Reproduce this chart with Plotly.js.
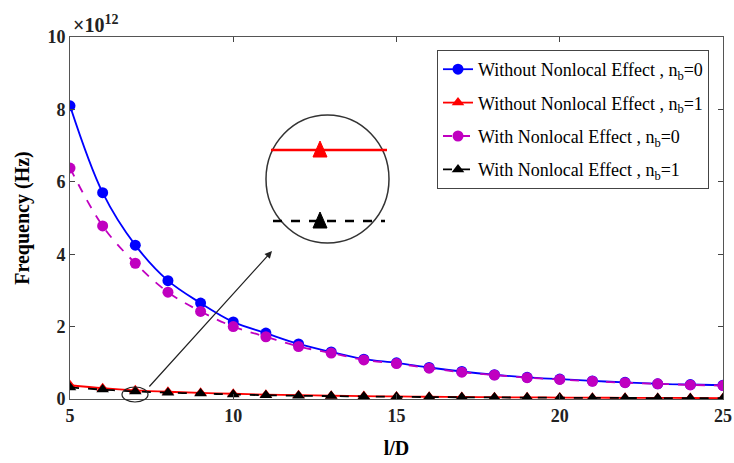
<!DOCTYPE html>
<html><head><meta charset="utf-8">
<script src="https://cdn.plot.ly/plotly-3.0.1.min.js"></script>
<style>body{margin:0;background:#fff}#chart{width:734px;height:463px}</style>
</head><body><div id="chart"></div>
<script>
const ld = [5,6,7,8,9,10,11,12,13,14,15,16,17,18,19,20,21,22,23,24,25];
const withoutNb0 = [8.1,5.7,4.25,3.27,2.65,2.13,1.82,1.52,1.3,1.1,1.0,0.87,0.76,0.67,0.6,0.55,0.5,0.46,0.42,0.4,0.38];
const withoutNb1 = [0.38,0.30,0.24,0.20,0.17,0.145,0.12,0.105,0.09,0.08,0.07,0.062,0.055,0.05,0.045,0.04,0.036,0.033,0.03,0.027,0.025];
const withNb0 = [6.38,4.78,3.75,2.95,2.42,2.0,1.72,1.45,1.27,1.08,0.98,0.85,0.74,0.66,0.59,0.54,0.49,0.45,0.42,0.39,0.37];
const withNb1 = [0.32,0.26,0.21,0.175,0.15,0.125,0.105,0.09,0.08,0.07,0.06,0.054,0.048,0.043,0.039,0.035,0.031,0.028,0.026,0.024,0.022];
const seriesNames = [
  'Without Nonlocal Effect , n<sub>b</sub>=0',
  'Without Nonlocal Effect , n<sub>b</sub>=1',
  'With Nonlocal Effect , n<sub>b</sub>=0',
  'With Nonlocal Effect , n<sub>b</sub>=1'
];
const xTicks = [5,10,15,20,25];
const yTicks = [0,2,4,6,8,10];

const font = 'Liberation Serif, Times New Roman, serif';
const traces = [
  {x: ld, y: withoutNb0, name: seriesNames[0], legendgroup:'a', mode:'lines+markers',
   line:{color:'#0000ff', width:1.8, shape:'spline'}, marker:{symbol:'circle', size:11, color:'#0000ff'}},
  {x: ld, y: withoutNb1, name: seriesNames[1], legendgroup:'b', mode:'lines+markers',
   line:{color:'#ff0000', width:1.8, shape:'spline'}, marker:{symbol:'triangle-up', size:11, color:'#ff0000'}},
  {x: ld, y: withNb0, name: seriesNames[2], legendgroup:'c', mode:'lines+markers',
   line:{color:'#c000c0', width:1.8, dash:'dash', shape:'spline'}, marker:{symbol:'circle', size:11, color:'#c000c0'}},
  {x: ld, y: withNb1, name: seriesNames[3], legendgroup:'d', mode:'lines+markers',
   line:{color:'#000000', width:1.8, dash:'dash', shape:'spline'}, marker:{symbol:'triangle-up', size:11, color:'#000000'}}
];

const L=70, R=723, T=37, B=399;
const px = v => (v-L)/(R-L);
const py = v => (B-v)/(B-T);

const shapes = [
  {type:'circle', xref:'paper', yref:'paper', x0:px(266), x1:px(389), y0:py(243), y1:py(115), line:{color:'#333', width:1.5}},
  {type:'line', xref:'paper', yref:'paper', x0:px(271), x1:px(387), y0:py(150), y1:py(150), line:{color:'#ff0000', width:2.5}},
  {type:'path', xref:'paper', yref:'paper', path:`M ${px(313)} ${py(157)} L ${px(327)} ${py(157)} L ${px(320)} ${py(141)} Z`, fillcolor:'#ff0000', line:{color:'#ff0000', width:1}},
  {type:'line', xref:'paper', yref:'paper', x0:px(273), x1:px(385), y0:py(221), y1:py(221), line:{color:'#000', width:2.5, dash:'dash'}},
  {type:'path', xref:'paper', yref:'paper', path:`M ${px(313)} ${py(228)} L ${px(327)} ${py(228)} L ${px(320)} ${py(212)} Z`, fillcolor:'#000', line:{color:'#000', width:1}},
  {type:'circle', xref:'paper', yref:'paper', x0:px(122), x1:px(148), y0:py(402), y1:py(387), line:{color:'#222', width:1.2}}
];

const layout = {
  width:734, height:463,
  margin:{l:L, r:734-R, t:T, b:463-B},
  paper_bgcolor:'#fff', plot_bgcolor:'#fff',
  font:{family:font, color:'#000'},
  showlegend:true,
  legend:{x:px(437), y:py(50), xanchor:'left', yanchor:'top', bordercolor:'#444', borderwidth:1,
          bgcolor:'#fff', font:{family:font, size:18, color:'#000'}, tracegroupgap:7, traceorder:'grouped'},
  xaxis:{range:[5,25], tickvals:xTicks, ticktext:xTicks.map(v=>'<b>'+v+'</b>'), ticks:'inside', ticklen:5,
         showline:true, mirror:'ticks', linecolor:'#555', linewidth:1, showgrid:false, zeroline:false,
         tickfont:{family:font, size:18, color:'#222'},
         title:{text:'<b>l/D</b>', font:{family:font, size:20, color:'#000'}, standoff:16}},
  yaxis:{range:[0,10], tickvals:yTicks, ticktext:yTicks.map(v=>'<b>'+v+'</b>'), ticks:'inside', ticklen:5,
         showline:true, mirror:'ticks', linecolor:'#555', linewidth:1, showgrid:false, zeroline:false,
         tickfont:{family:font, size:18, color:'#222'},
         title:{text:'<b>Frequency (Hz)</b>', font:{family:font, size:20, color:'#000'}, standoff:12}},
  shapes: shapes,
  annotations:[
    {xref:'paper', yref:'paper', x:px(71), y:py(24), xanchor:'left', yanchor:'middle', showarrow:false,
     text:'<b>×10<sup>12</sup></b>', font:{family:font, size:20, color:'#222'}},
    {xref:'paper', yref:'paper', x:px(272), y:py(251), axref:'pixel', ayref:'pixel', ax:-124, ay:137,
     showarrow:true, arrowhead:2, arrowsize:1.2, arrowwidth:1.2, arrowcolor:'#222', text:''}
  ]
};
Plotly.newPlot('chart', traces, layout, {displayModeBar:false});
</script></body></html>
